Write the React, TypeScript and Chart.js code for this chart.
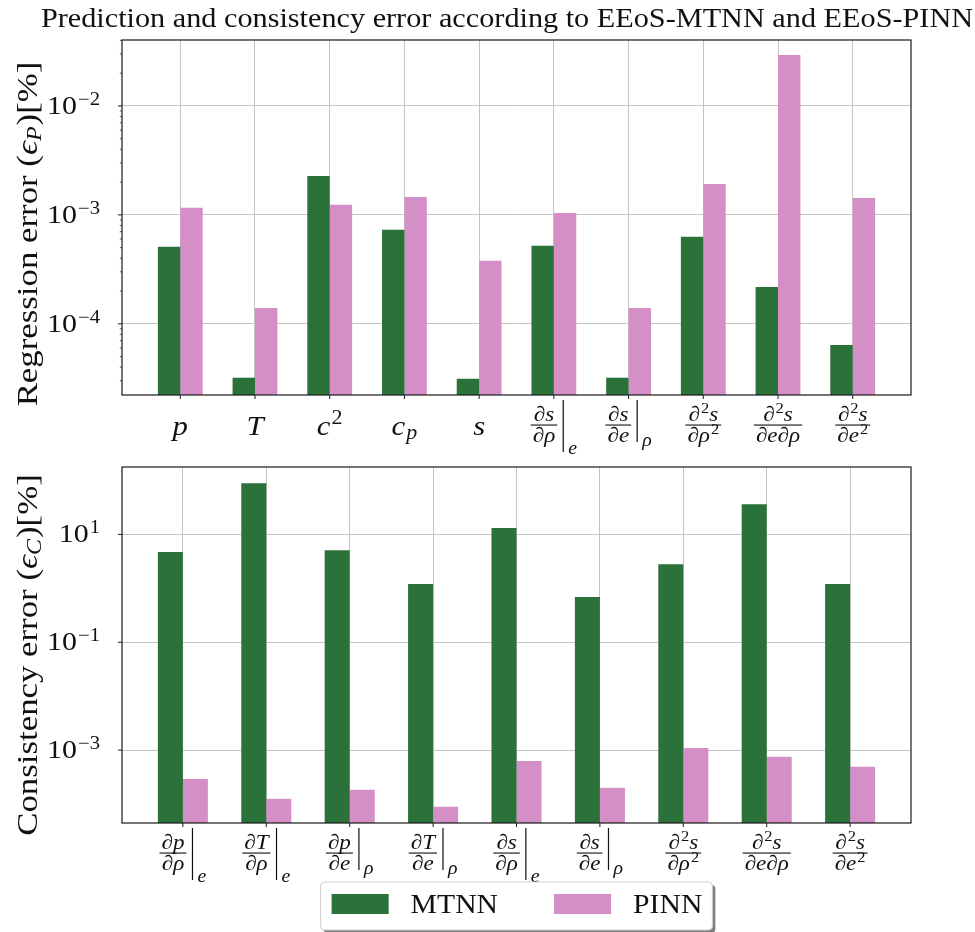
import React, { useEffect, useRef } from 'react';
import { Chart, registerables } from 'chart.js';

Chart.register(...registerables);

// ---------------- data ----------------
const seriesNames = ['MTNN', 'PINN'];
const seriesColors = ['#2b713a', '#d48fc6'];

const regressionLabels = ['p', 'T', 'c^2', 'c_p', 's', '∂s/∂ρ|e', '∂s/∂e|ρ', '∂^2s/∂ρ^2', '∂^2s/∂e∂ρ', '∂^2s/∂e^2'];
const regressionMTNN = [5.1e-4, 3.2e-5, 2.28e-3, 7.3e-4, 3.13e-5, 5.2e-4, 3.2e-5, 6.3e-4, 2.18e-4, 6.4e-5];
const regressionPINN = [1.16e-3, 1.4e-4, 1.24e-3, 1.46e-3, 3.8e-4, 1.04e-3, 1.4e-4, 1.92e-3, 2.94e-2, 1.43e-3];
const regressionTicks = [1e-4, 1e-3, 1e-2];
const regressionYRange = [2.22e-5, 4.03e-2];
const regressionXRange = [-0.78, 9.78];

const consistencyLabels = ['∂p/∂ρ|e', '∂T/∂ρ|e', '∂p/∂e|ρ', '∂T/∂e|ρ', '∂s/∂ρ|e', '∂s/∂e|ρ', '∂^2s/∂ρ^2', '∂^2s/∂e∂ρ', '∂^2s/∂e^2'];
const consistencyMTNN = [4.7, 89, 5.1, 1.2, 13.1, 0.69, 2.8, 36.4, 1.2];
const consistencyPINN = [2.9e-4, 1.25e-4, 1.84e-4, 8.9e-5, 6.3e-4, 2.0e-4, 1.1e-3, 7.5e-4, 4.9e-4];
const consistencyTicks = [1e-3, 1e-1, 1e1];
const consistencyYRange = [4.45e-5, 178];
const consistencyXRange = [-0.73, 8.73];

const titleText = 'Prediction and consistency error according to EEoS-MTNN and EEoS-PINN';
const regressionAxisTitle = ['Regression error (', 'ϵ', 'P', ')[%]'];
const consistencyAxisTitle = ['Consistency error (', 'ϵ', 'C', ')[%]'];

// ---------------- text helpers ----------------
const SERIF = '"Liberation Serif", "DejaVu Serif", serif';
const SX = 1.1;
const INK = '#111';

function font(size: number, italic = false) {
  return `${italic ? 'italic ' : ''}${size}px ${SERIF}`;
}
function textW(ctx: CanvasRenderingContext2D, s: string, f: string, sx = SX) {
  ctx.font = f;
  return ctx.measureText(s).width * sx;
}
function drawText(ctx: CanvasRenderingContext2D, s: string, x: number, y: number, f: string, sx = SX) {
  ctx.save();
  ctx.font = f;
  ctx.fillStyle = INK;
  ctx.textAlign = 'left';
  ctx.textBaseline = 'alphabetic';
  ctx.translate(x, y);
  ctx.scale(sx, 1);
  ctx.fillText(s, 0, 0);
  ctx.restore();
}

type Tok = { t: string; it: boolean; lvl: number };
function parseRun(s: string): Tok[] {
  const out: Tok[] = [];
  const chars = Array.from(s);
  for (let i = 0; i < chars.length; i++) {
    let c = chars[i];
    let lvl = 0;
    if (c === '^' || c === '_') {
      lvl = c === '^' ? 1 : -1;
      c = chars[++i];
    }
    out.push({ t: c, it: !/[0-9]/.test(c), lvl });
  }
  return out;
}
function tokFont(tok: Tok, size: number) {
  return font(tok.lvl ? Math.round(size * 0.7) : size, tok.it);
}
function runWidth(ctx: CanvasRenderingContext2D, toks: Tok[], size: number) {
  let w = 0;
  toks.forEach((tok) => {
    w += textW(ctx, tok.t, tokFont(tok, size)) + (tok.lvl ? 1 : 0);
  });
  return w;
}
function drawRun(ctx: CanvasRenderingContext2D, toks: Tok[], x: number, y: number, size: number) {
  let px = x;
  toks.forEach((tok) => {
    const f = tokFont(tok, size);
    const dy = tok.lvl === 1 ? -size * 0.4 : tok.lvl === -1 ? size * 0.15 : 0;
    if (tok.lvl) px += 1;
    drawText(ctx, tok.t, px, y + dy, f);
    px += textW(ctx, tok.t, f);
  });
}

function drawMathLabel(ctx: CanvasRenderingContext2D, label: string, cx: number, axisBottom: number) {
  const [main, evalSub] = label.split('|');
  ctx.fillStyle = INK;
  if (!main.includes('/')) {
    const size = 28;
    const toks = parseRun(main);
    const w = runWidth(ctx, toks, size);
    drawRun(ctx, toks, cx - w / 2, axisBottom + 40, size);
    return;
  }
  const [num, den] = main.split('/');
  const size = 21;
  const nt = parseRun(num);
  const dt = parseRun(den);
  const nw = runWidth(ctx, nt, size);
  const dw = runWidth(ctx, dt, size);
  const fw = Math.max(nw, dw) + 4;
  const subF = font(18, true);
  let total = fw;
  let subW = 0;
  if (evalSub) {
    subW = textW(ctx, evalSub, subF);
    total += 11 + subW;
  }
  const x0 = cx - total / 2;
  const barY = axisBottom + 30;
  ctx.fillStyle = INK;
  ctx.fillRect(x0, barY - 0.5, fw, 1.1);
  drawRun(ctx, nt, x0 + (fw - nw) / 2, barY - 4, size);
  drawRun(ctx, dt, x0 + (fw - dw) / 2, barY + 17, size);
  if (evalSub) {
    const bx = x0 + fw + 6;
    const hasDesc = den.includes('ρ');
    const top = barY - 25;
    const bot = barY + (hasDesc ? 27 : 17);
    ctx.fillStyle = INK;
    ctx.fillRect(bx - 0.6, top, 1.2, bot - top);
    drawText(ctx, evalSub, bx + 5, bot + (hasDesc ? 2 : 4), subF);
  }
}

function drawPow(ctx: CanvasRenderingContext2D, v: number, rightX: number, y: number) {
  const e = Math.round(Math.log10(v));
  const exp = (e < 0 ? '\u2212' : '') + Math.abs(e);
  const baseF = font(26);
  const supF = font(18);
  const sx = 1.15;
  const bw = textW(ctx, '10', baseF, sx);
  const sw = textW(ctx, exp, supF, sx);
  const x0 = rightX - bw - sw - 1;
  drawText(ctx, '10', x0, y + 8, baseF, sx);
  drawText(ctx, exp, x0 + bw + 1, y - 1, supF, sx);
}

function drawAxisTitle(ctx: CanvasRenderingContext2D, parts: string[], x: number, cy: number) {
  const [pre, sym, sub, post] = parts;
  const sx = 1.2;
  const f = font(29);
  const fi = font(29, true);
  const fs = font(20, true);
  const w1 = textW(ctx, pre, f, sx);
  const w2 = textW(ctx, sym, fi, sx);
  const w3 = textW(ctx, sub, fs, sx);
  const w4 = textW(ctx, post, f, sx);
  const total = w1 + w2 + w3 + w4 + 1;
  ctx.save();
  ctx.translate(x, cy);
  ctx.rotate(-Math.PI / 2);
  let px = -total / 2;
  drawText(ctx, pre, px, 0, f, sx);
  px += w1;
  drawText(ctx, sym, px, 0, fi, sx);
  px += w2;
  drawText(ctx, sub, px, 4, fs, sx);
  px += w3 + 1;
  drawText(ctx, post, px, 0, f, sx);
  ctx.restore();
}

function roundRect(ctx: CanvasRenderingContext2D, x: number, y: number, w: number, h: number, r: number) {
  ctx.beginPath();
  ctx.moveTo(x + r, y);
  ctx.lineTo(x + w - r, y);
  ctx.quadraticCurveTo(x + w, y, x + w, y + r);
  ctx.lineTo(x + w, y + h - r);
  ctx.quadraticCurveTo(x + w, y + h, x + w - r, y + h);
  ctx.lineTo(x + r, y + h);
  ctx.quadraticCurveTo(x, y + h, x, y + h - r);
  ctx.lineTo(x, y + r);
  ctx.quadraticCurveTo(x, y, x + r, y);
  ctx.closePath();
}

// ---------------- chart config ----------------
type Layout = {
  canvasH: number;
  top: number;
  bottom: number;
  left: number;
  right: number;
  axisTitle: string[];
  axisTitleY: number;
  minor: boolean;
  title?: boolean;
  legend?: boolean;
};

function makeDecor(labels: string[], ticks: number[], L: Layout) {
  return {
    id: 'decor',
    afterDatasetsDraw(chart: any) {
      const { ctx, chartArea: a } = chart;
      ctx.save();
      ctx.strokeStyle = '#1a1a1a';
      ctx.lineWidth = 1.2;
      ctx.strokeRect(a.left, a.top, a.right - a.left, a.bottom - a.top);
      ctx.restore();
    },
    afterDraw(chart: any) {
      const { ctx, chartArea: a } = chart;
      const ys = chart.scales.y;
      const xs = chart.scales.x;
      ctx.save();
      ctx.strokeStyle = '#1a1a1a';
      ticks.forEach((v) => {
        const y = ys.getPixelForValue(v);
        ctx.lineWidth = 1;
        ctx.beginPath();
        ctx.moveTo(a.left - 4, y);
        ctx.lineTo(a.left, y);
        ctx.stroke();
        drawPow(ctx, v, 100, y);
      });
      if (L.minor) {
        const k0 = Math.floor(Math.log10(ys.min));
        const k1 = Math.ceil(Math.log10(ys.max));
        ctx.lineWidth = 0.7;
        for (let k = k0; k <= k1; k++) {
          for (let m = 2; m <= 9; m++) {
            const v = m * Math.pow(10, k);
            if (v <= ys.min || v >= ys.max) continue;
            const y = ys.getPixelForValue(v);
            ctx.beginPath();
            ctx.moveTo(a.left - 2.2, y);
            ctx.lineTo(a.left, y);
            ctx.stroke();
          }
        }
      }
      labels.forEach((lab, i) => {
        const x = xs.getPixelForValue(i);
        ctx.lineWidth = 1;
        ctx.beginPath();
        ctx.moveTo(x, a.bottom);
        ctx.lineTo(x, a.bottom + 4);
        ctx.stroke();
        drawMathLabel(ctx, lab, x, a.bottom);
      });
      drawAxisTitle(ctx, L.axisTitle, 37, L.axisTitleY);

      if (L.title) {
        const f = font(27);
        const tsx = 1.12;
        const w = textW(ctx, titleText, f, tsx);
        drawText(ctx, titleText, 507 - w / 2, 27, f, tsx);
      }
      if (L.legend) {
        const ds = chart.data.datasets;
        const f = font(27);
        const patchW = 57, patchH = 20, gap = 22, colGap = 56, padL = 11, padR = 10;
        const widths = ds.map((d: any) => textW(ctx, d.label, f));
        let total = padL + padR;
        widths.forEach((w: number, i: number) => {
          total += patchW + gap + w + (i < ds.length - 1 ? colGap : 0);
        });
        const fx = (a.left + a.right) / 2 - total / 2;
        const fy = 422;
        const fh = 48;
        ctx.fillStyle = 'rgba(0,0,0,0.5)';
        roundRect(ctx, fx + 3, fy + 3, total, fh, 4);
        ctx.fill();
        ctx.fillStyle = '#ffffff';
        roundRect(ctx, fx, fy, total, fh, 4);
        ctx.fill();
        ctx.strokeStyle = '#cfcfcf';
        ctx.lineWidth = 1;
        ctx.stroke();
        let px = fx + padL;
        ds.forEach((d: any, i: number) => {
          ctx.fillStyle = d.backgroundColor;
          ctx.fillRect(px, fy + 12, patchW, patchH);
          px += patchW + gap;
          drawText(ctx, d.label, px, fy + 31, f);
          px += widths[i] + colGap;
        });
      }
      ctx.restore();
    },
  };
}

function buildConfig(
  labels: string[],
  mtnn: number[],
  pinn: number[],
  yRange: number[],
  xRange: number[],
  ticks: number[],
  L: Layout
): any {
  const grid = { color: '#c4c4c4', lineWidth: 1, drawTicks: false, offset: false };
  return {
    type: 'bar',
    data: {
      datasets: [
        {
          label: seriesNames[0],
          data: mtnn.map((y, i) => ({ x: i, y })),
          backgroundColor: seriesColors[0],
          categoryPercentage: 0.6,
          barPercentage: 1,
          borderWidth: 0,
        },
        {
          label: seriesNames[1],
          data: pinn.map((y, i) => ({ x: i, y })),
          backgroundColor: seriesColors[1],
          categoryPercentage: 0.6,
          barPercentage: 1,
          borderWidth: 0,
        },
      ],
    },
    options: {
      animation: false,
      responsive: false,
      maintainAspectRatio: false,
      events: [],
      layout: { padding: { top: L.top, right: 975 - L.right, left: 0, bottom: 0 } },
      plugins: { legend: { display: false }, tooltip: { enabled: false }, title: { display: false } },
      scales: {
        x: {
          type: 'linear',
          min: xRange[0],
          max: xRange[1],
          offset: false,
          grid,
          border: { display: false },
          ticks: { display: false },
          afterBuildTicks: (s: any) => {
            s.ticks = labels.map((_, i) => ({ value: i }));
          },
          afterFit: (s: any) => {
            s.height = L.canvasH - L.bottom;
          },
        },
        y: {
          type: 'logarithmic',
          min: yRange[0],
          max: yRange[1],
          beginAtZero: false,
          grid,
          border: { display: false },
          ticks: { display: false },
          afterBuildTicks: (s: any) => {
            s.ticks = ticks.map((v) => ({ value: v }));
          },
          afterFit: (s: any) => {
            s.width = L.left;
          },
        },
      },
    },
    plugins: [makeDecor(labels, ticks, L)],
  };
}

export default function App() {
  const topRef = useRef<HTMLCanvasElement | null>(null);
  const botRef = useRef<HTMLCanvasElement | null>(null);

  useEffect(() => {
    const c1 = new Chart(
      topRef.current as HTMLCanvasElement,
      buildConfig(regressionLabels, regressionMTNN, regressionPINN, regressionYRange, regressionXRange, regressionTicks, {
        canvasH: 460,
        top: 40,
        bottom: 395,
        left: 122,
        right: 911,
        axisTitle: regressionAxisTitle,
        axisTitleY: 234,
        minor: true,
        title: true,
      })
    );
    const c2 = new Chart(
      botRef.current as HTMLCanvasElement,
      buildConfig(consistencyLabels, consistencyMTNN, consistencyPINN, consistencyYRange, consistencyXRange, consistencyTicks, {
        canvasH: 472,
        top: 7,
        bottom: 363,
        left: 122,
        right: 911,
        axisTitle: consistencyAxisTitle,
        axisTitleY: 195,
        minor: false,
        legend: true,
      })
    );
    return () => {
      c1.destroy();
      c2.destroy();
    };
  }, []);

  return (
    <div style={{ position: 'absolute', left: 0, top: 0, width: 975, height: 932, background: '#ffffff' }}>
      <canvas ref={topRef} width={975} height={460} style={{ position: 'absolute', left: 0, top: 0, width: 975, height: 460 }} />
      <canvas ref={botRef} width={975} height={472} style={{ position: 'absolute', left: 0, top: 460, width: 975, height: 472 }} />
    </div>
  );
}
